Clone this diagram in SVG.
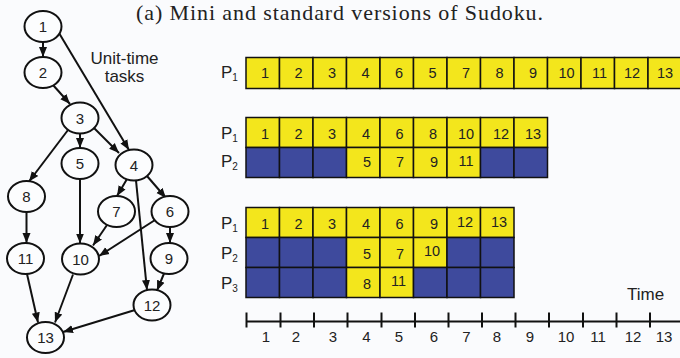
<svg xmlns="http://www.w3.org/2000/svg" width="680" height="358" viewBox="0 0 680 358">
<defs>
<marker id="ah" markerUnits="userSpaceOnUse" markerWidth="10" markerHeight="10" viewBox="0 0 10 8" refX="10" refY="4" orient="auto">
<path d="M0,0 L10,4 L0,8 Z" fill="#111"/>
</marker>
<style>
.n ellipse{fill:#fcfdfe;stroke:#111;stroke-width:2}
.n text,.lbl{font-family:"Liberation Sans",Arial,sans-serif;font-size:15px;fill:#222;text-anchor:middle}
.e line{stroke:#111;stroke-width:2;marker-end:url(#ah)}
.y{fill:#f3e61c;stroke:#111;stroke-width:1.5}
.b{fill:#3e4a9d;stroke:#111;stroke-width:1.5}
.c{font-family:"Liberation Sans",Arial,sans-serif;font-size:14.5px;fill:#222;text-anchor:middle}
.p{font-family:"Liberation Sans",Arial,sans-serif;font-size:17px;fill:#222}
.s{font-size:10px}
.ax line{stroke:#111;stroke-width:2}
</style>
</defs>
<rect width="680" height="358" fill="#fafbfd"/>
<text x="136" y="19.5" font-family="Liberation Serif,'Times New Roman',serif" font-size="22" fill="#222" textLength="407" lengthAdjust="spacing">(a) Mini and standard versions of Sudoku.</text>

<g id="connectors" class="e">
<line x1="43" y1="42" x2="43" y2="57"/>
<line x1="59" y1="33" x2="129" y2="150"/>
<line x1="53" y1="85" x2="70" y2="104"/>
<line x1="68" y1="130" x2="29" y2="181.5"/>
<line x1="80" y1="133.5" x2="80" y2="148"/>
<line x1="94" y1="128" x2="119" y2="153"/>
<line x1="127" y1="179" x2="117" y2="196"/>
<line x1="147" y1="176" x2="166" y2="198"/>
<line x1="136" y1="180.5" x2="147" y2="290"/>
<line x1="80" y1="179" x2="80" y2="243.5"/>
<line x1="107" y1="225" x2="93" y2="245.5"/>
<line x1="155" y1="220" x2="99" y2="256"/>
<line x1="170" y1="227" x2="170" y2="243"/>
<line x1="26.5" y1="212" x2="26.5" y2="243"/>
<line x1="164" y1="273.5" x2="157" y2="290.5"/>
<line x1="27" y1="274" x2="38" y2="322.5"/>
<line x1="73" y1="274.5" x2="55" y2="322.5"/>
<line x1="135" y1="310" x2="63" y2="332"/>
</g>

<g id="node1" class="n"><ellipse cx="43" cy="26.5" rx="18.5" ry="15.5"/><text x="43" y="32">1</text></g>
<g id="node2" class="n"><ellipse cx="43" cy="72.5" rx="18.5" ry="15.5"/><text x="43" y="78">2</text></g>
<g id="node3" class="n"><ellipse cx="80" cy="118" rx="18.5" ry="15.5"/><text x="80" y="123.5">3</text></g>
<g id="node5" class="n"><ellipse cx="80" cy="163.5" rx="18.5" ry="15.5"/><text x="80" y="169">5</text></g>
<g id="node4" class="n"><ellipse cx="134" cy="165" rx="18.5" ry="15.5"/><text x="134" y="170.5">4</text></g>
<g id="node8" class="n"><ellipse cx="26.5" cy="196.5" rx="18.5" ry="15.5"/><text x="26.5" y="202">8</text></g>
<g id="node7" class="n"><ellipse cx="116.5" cy="211.5" rx="18.5" ry="15.5"/><text x="116.5" y="217">7</text></g>
<g id="node6" class="n"><ellipse cx="170" cy="211.5" rx="18.5" ry="15.5"/><text x="170" y="217">6</text></g>
<g id="node11" class="n"><ellipse cx="25.5" cy="258.5" rx="18.5" ry="15.5"/><text x="25.5" y="264">11</text></g>
<g id="node10" class="n"><ellipse cx="80.5" cy="259" rx="18.5" ry="15.5"/><text x="80.5" y="264.5">10</text></g>
<g id="node9" class="n"><ellipse cx="169" cy="258.5" rx="18.5" ry="15.5"/><text x="169" y="264">9</text></g>
<g id="node12" class="n"><ellipse cx="152" cy="305" rx="18.5" ry="15.5"/><text x="152" y="310.5">12</text></g>
<g id="node13" class="n"><ellipse cx="45.5" cy="337.5" rx="18.5" ry="15.5"/><text x="45.5" y="343">13</text></g>

<g id="note" font-family="Liberation Sans,Arial,sans-serif" font-size="17" fill="#222" text-anchor="middle">
<text x="124.5" y="63.5">Unit-time</text>
<text x="124.5" y="82">tasks</text>
</g>

<g id="schedule1">
<text class="p" x="221" y="78">P<tspan class="s" dy="3">1</tspan></text>
<rect class="y" x="246" y="57.5" width="33.5" height="31"/>
<rect class="y" x="279.5" y="57.5" width="33.5" height="31"/>
<rect class="y" x="313" y="57.5" width="33.5" height="31"/>
<rect class="y" x="346.5" y="57.5" width="33.5" height="31"/>
<rect class="y" x="380" y="57.5" width="33.5" height="31"/>
<rect class="y" x="413.5" y="57.5" width="33.5" height="31"/>
<rect class="y" x="447" y="57.5" width="33.5" height="31"/>
<rect class="y" x="480.5" y="57.5" width="33.5" height="31"/>
<rect class="y" x="514" y="57.5" width="33.5" height="31"/>
<rect class="y" x="547.5" y="57.5" width="33.5" height="31"/>
<rect class="y" x="581" y="57.5" width="33.5" height="31"/>
<rect class="y" x="614.5" y="57.5" width="33.5" height="31"/>
<rect class="y" x="648" y="57.5" width="33.5" height="31"/>
<g class="c">
<text x="265" y="78">1</text><text x="298.5" y="78">2</text><text x="332" y="78">3</text><text x="365.5" y="78">4</text><text x="399" y="78">6</text><text x="432.5" y="78">5</text><text x="466" y="78">7</text><text x="499.5" y="78">8</text><text x="533" y="78">9</text><text x="566.5" y="78">10</text><text x="599.5" y="78">11</text><text x="632" y="78">12</text><text x="665" y="78">13</text>
</g>
</g>

<g id="schedule2">
<text class="p" x="221" y="139">P<tspan class="s" dy="3">1</tspan></text>
<text class="p" x="221" y="167">P<tspan class="s" dy="3">2</tspan></text>
<rect class="y" x="246" y="117.5" width="33.5" height="30"/>
<rect class="y" x="279.5" y="117.5" width="33.5" height="30"/>
<rect class="y" x="313" y="117.5" width="33.5" height="30"/>
<rect class="y" x="346.5" y="117.5" width="33.5" height="30"/>
<rect class="y" x="380" y="117.5" width="33.5" height="30"/>
<rect class="y" x="413.5" y="117.5" width="33.5" height="30"/>
<rect class="y" x="447" y="117.5" width="33.5" height="30"/>
<rect class="y" x="480.5" y="117.5" width="33.5" height="30"/>
<rect class="y" x="514" y="117.5" width="33.5" height="30"/>
<rect class="b" x="246" y="147.5" width="33.5" height="30"/>
<rect class="b" x="279.5" y="147.5" width="33.5" height="30"/>
<rect class="b" x="313" y="147.5" width="33.5" height="30"/>
<rect class="y" x="346.5" y="147.5" width="33.5" height="30"/>
<rect class="y" x="380" y="147.5" width="33.5" height="30"/>
<rect class="y" x="413.5" y="147.5" width="33.5" height="30"/>
<rect class="y" x="447" y="147.5" width="33.5" height="30"/>
<rect class="b" x="480.5" y="147.5" width="33.5" height="30"/>
<rect class="b" x="514" y="147.5" width="33.5" height="30"/>
<g class="c">
<text x="265" y="139">1</text><text x="298.5" y="139">2</text><text x="332" y="139">3</text><text x="366" y="139">4</text><text x="399.5" y="139">6</text><text x="433" y="139">8</text><text x="466" y="139">10</text><text x="501" y="139">12</text><text x="533" y="139">13</text>
<text x="367" y="167">5</text><text x="400" y="167">7</text><text x="434" y="167">9</text><text x="466" y="166">11</text>
</g>
</g>

<g id="schedule3">
<text class="p" x="221" y="228.5">P<tspan class="s" dy="3">1</tspan></text>
<text class="p" x="221" y="258.5">P<tspan class="s" dy="3">2</tspan></text>
<text class="p" x="221" y="288.5">P<tspan class="s" dy="3">3</tspan></text>
<rect class="y" x="246" y="207.5" width="33.5" height="30"/>
<rect class="y" x="279.5" y="207.5" width="33.5" height="30"/>
<rect class="y" x="313" y="207.5" width="33.5" height="30"/>
<rect class="y" x="346.5" y="207.5" width="33.5" height="30"/>
<rect class="y" x="380" y="207.5" width="33.5" height="30"/>
<rect class="y" x="413.5" y="207.5" width="33.5" height="30"/>
<rect class="y" x="447" y="207.5" width="33.5" height="30"/>
<rect class="y" x="480.5" y="207.5" width="33.5" height="30"/>
<rect class="b" x="246" y="237.5" width="33.5" height="30"/>
<rect class="b" x="279.5" y="237.5" width="33.5" height="30"/>
<rect class="b" x="313" y="237.5" width="33.5" height="30"/>
<rect class="y" x="346.5" y="237.5" width="33.5" height="30"/>
<rect class="y" x="380" y="237.5" width="33.5" height="30"/>
<rect class="y" x="413.5" y="237.5" width="33.5" height="30"/>
<rect class="b" x="447" y="237.5" width="33.5" height="30"/>
<rect class="b" x="480.5" y="237.5" width="33.5" height="30"/>
<rect class="b" x="246" y="267.5" width="33.5" height="30"/>
<rect class="b" x="279.5" y="267.5" width="33.5" height="30"/>
<rect class="b" x="313" y="267.5" width="33.5" height="30"/>
<rect class="y" x="346.5" y="267.5" width="33.5" height="30"/>
<rect class="y" x="380" y="267.5" width="33.5" height="30"/>
<rect class="b" x="413.5" y="267.5" width="33.5" height="30"/>
<rect class="b" x="447" y="267.5" width="33.5" height="30"/>
<rect class="b" x="480.5" y="267.5" width="33.5" height="30"/>
<g class="c">
<text x="265" y="228.5">1</text><text x="298.5" y="228.5">2</text><text x="332" y="228.5">3</text><text x="366" y="228.5">4</text><text x="399.5" y="228.5">6</text><text x="434" y="228.5">9</text><text x="465" y="226.5">12</text><text x="499" y="226.5">13</text>
<text x="367" y="258.5">5</text><text x="400" y="258.5">7</text><text x="432" y="256">10</text>
<text x="367" y="288.5">8</text><text x="398.5" y="286">11</text>
</g>
</g>

<g id="time-axis" class="ax">
<text class="p" x="627" y="300">Time</text>
<line x1="246" y1="321.5" x2="680" y2="321.5"/>
<line x1="246.5" y1="312.5" x2="246.5" y2="327.5"/>
<line x1="280.5" y1="312.5" x2="280.5" y2="327.5"/>
<line x1="314" y1="312.5" x2="314" y2="327.5"/>
<line x1="347.5" y1="312.5" x2="347.5" y2="327.5"/>
<line x1="381.5" y1="312.5" x2="381.5" y2="327.5"/>
<line x1="415" y1="312.5" x2="415" y2="327.5"/>
<line x1="448.5" y1="312.5" x2="448.5" y2="327.5"/>
<line x1="482" y1="312.5" x2="482" y2="327.5"/>
<line x1="515.5" y1="312.5" x2="515.5" y2="327.5"/>
<line x1="549" y1="312.5" x2="549" y2="327.5"/>
<line x1="583" y1="312.5" x2="583" y2="327.5"/>
<line x1="616.5" y1="312.5" x2="616.5" y2="327.5"/>
<line x1="650" y1="312.5" x2="650" y2="327.5"/>
<g class="lbl">
<text x="266" y="342">1</text><text x="296" y="342">2</text><text x="333" y="342">3</text><text x="366.5" y="342">4</text><text x="399" y="342">5</text><text x="434" y="342">6</text><text x="466.5" y="342">7</text><text x="497" y="342">8</text><text x="530" y="342">9</text><text x="566" y="342">10</text><text x="598" y="342">11</text><text x="633" y="342">12</text><text x="664" y="342">13</text>
</g>
</g>
</svg>
